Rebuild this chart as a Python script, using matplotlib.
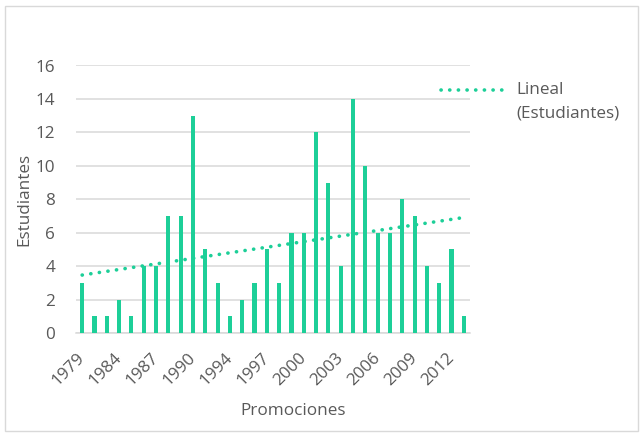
import matplotlib
matplotlib.use("Agg")
import matplotlib.pyplot as plt
import numpy as np
from matplotlib.patches import Rectangle
from matplotlib.lines import Line2D

years = ["1979", "1981", "1983", "1984", "1985", "1986", "1987", "1988", "1989", "1990",
         "1991", "1992", "1994", "1995", "1996", "1997", "1998", "1999", "2000", "2001",
         "2002", "2003", "2004", "2005", "2006", "2007", "2008", "2009", "2010", "2011",
         "2012", "2013"]
estudiantes = [3, 1, 1, 2, 1, 4, 4, 7, 7, 13, 5, 3, 1, 2, 3, 5, 3, 6, 6, 12,
               9, 4, 14, 10, 6, 6, 8, 7, 4, 3, 5, 1]
yticks = [0, 2, 4, 6, 8, 10, 12, 14, 16]

plt.rcParams['font.family'] = ['Open Sans', 'DejaVu Sans']
txt = '#595959'
green = '#1DCF98'
fs = 12.3
dots = (0, (0.05, 2.35))

fig = plt.figure(figsize=(6.44, 4.36), dpi=100)
W, H = 644, 436
ax = fig.add_axes([76 / W, 1 - 333 / H, (470 - 76) / W, (333 - 65.5) / H])

x = np.arange(len(years))
ax.bar(x, estudiantes, width=0.33, color=green, zorder=3)

coef = np.polyfit(x + 1, estudiantes, 1)
trend = np.polyval(coef, x + 1)
ax.plot(x, trend, color=green, lw=2.6, linestyle=dots,
        dash_capstyle='round', zorder=4)

ax.set_xlim(-0.5, len(years) - 0.5)
ax.set_ylim(0, 16)
ax.set_yticks(yticks)
ax.set_yticklabels([str(v) for v in yticks], color=txt, fontsize=fs)
ax.yaxis.grid(True, color='#D9D9D9', lw=1.1, zorder=0)
ax.set_axisbelow(True)
for s in ['top', 'right', 'left']:
    ax.spines[s].set_visible(False)
ax.spines['bottom'].set_color('#D9D9D9')
ax.spines['bottom'].set_linewidth(1.1)
ax.tick_params(axis='both', length=0)
ax.tick_params(axis='y', pad=15)

ax.set_xticks(x[::3])
ax.set_xticklabels(years[::3], rotation=45, ha='right', va='center',
                   rotation_mode='anchor', color=txt, fontsize=fs)
ax.tick_params(axis='x', pad=16)

fig.text(24.5 / W, 1 - 199 / H, 'Estudiantes', color=txt, fontsize=fs,
         rotation=90, ha='center', va='center')
fig.text(293 / W, 1 - 411 / H, 'Promociones', color=txt, fontsize=fs,
         ha='center', va='center')

# legend
fig.add_artist(Line2D([441 / W, 502 / W], [1 - 90 / H, 1 - 90 / H], color=green, lw=2.6,
                      linestyle=dots, dash_capstyle='round'))
fig.text(516 / W, 1 - 90 / H, 'Lineal', color=txt, fontsize=fs, va='center', ha='left')
fig.text(516 / W, 1 - 114 / H, '(Estudiantes)', color=txt, fontsize=fs, va='center', ha='left')

# chart border
fig.add_artist(Rectangle((5 / W, 1 - 431 / H), (638 - 5) / W, (431 - 6) / H,
                         transform=fig.transFigure, fill=False, edgecolor='#D9D9D9', lw=1))

fig.savefig('out.png', dpi=100)
